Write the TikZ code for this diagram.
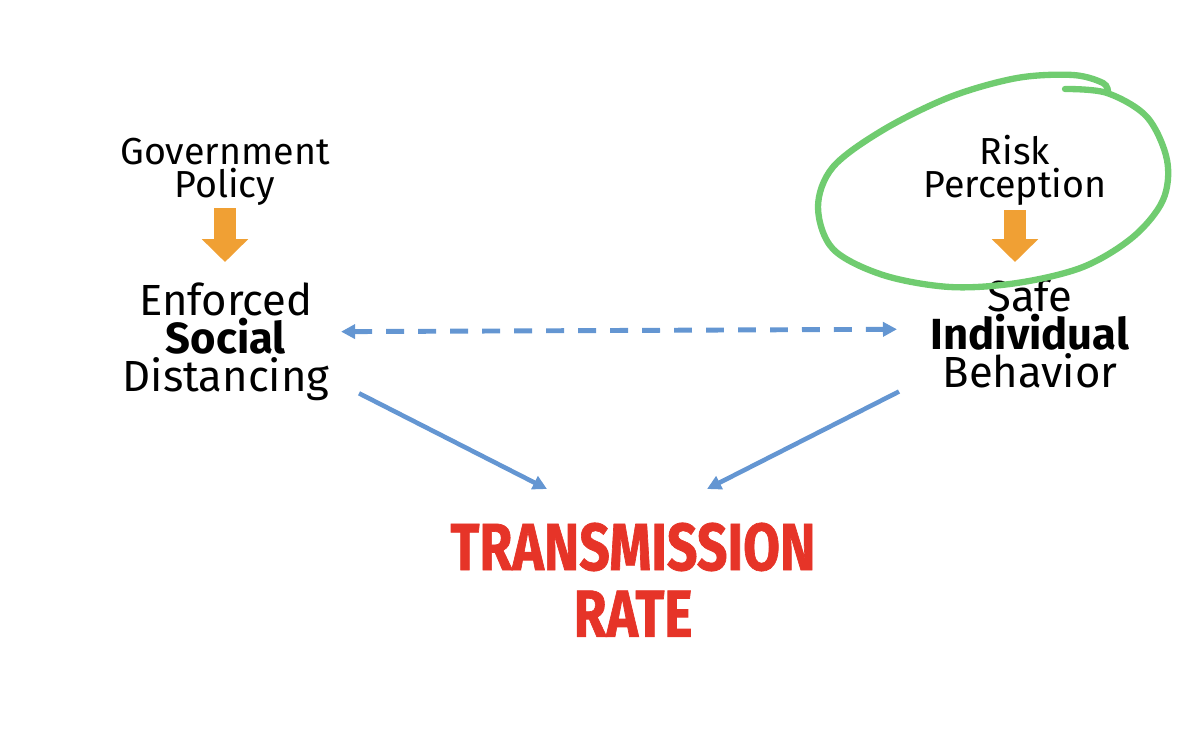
\documentclass[tikz,border=0pt]{standalone}
\usepackage{fontspec}
\setmainfont{Fira Sans}
\newfontfamily\ratefont{Fira Sans}[FakeStretch=0.8,FakeBold=1]
\usetikzlibrary{arrows.meta}

\definecolor{arrorange}{RGB}{240,160,52}
\definecolor{linkblue}{RGB}{100,150,210}
\definecolor{loopgreen}{RGB}{112,204,112}
\definecolor{ratered}{RGB}{230,52,40}

\begin{document}
\begin{tikzpicture}[x=0.1mm,y=-0.1mm,>={Triangle[width=4pt,length=4pt]},
  lbl/.style={align=center,inner sep=0pt,font=\fontsize{10.7}{8.3}\selectfont},
  big/.style={align=center,inner sep=0pt,font=\fontsize{12.4}{10.8}\selectfont},
  down/.style={arrorange,line width=6pt,-{Triangle[width=12.8pt,length=6.5pt]}},
  link/.style={linkblue,line width=1.3pt,->},
  twoway/.style={linkblue,line width=1.4pt,<->,dash pattern=on 5.1pt off 4pt}]

\useasboundingbox (0,0) rectangle (1200,738);

\node[lbl,anchor=north] (gov) at (225,137) {Government\\Policy};
\node[big,anchor=north] (esd) at (226,282) {Enforced\\\textbf{Social}\\Distancing};

\node[lbl,anchor=north] (risk) at (1015,134) {Risk\\Perception};
\node[big,anchor=north] (sib) at (1030,278) {Safe\\\textbf{Individual}\\Behavior};

\node[anchor=north,inner sep=0pt,align=center,text=ratered,
  font=\ratefont\bfseries\fontsize{19}{19}\selectfont] (rate) at (633,522) {TRANSMISSION\\RATE};

% policy and risk push the behaviour
\draw[down,shorten <=0.2mm,shorten >=2mm] (gov.south) -- (gov.south |- esd.north);
\draw[down,shorten <=0.4mm,shorten >=1.6mm] (risk.south) -- (risk.south |- sib.north);

\draw[twoway] ([xshift=1.1mm,yshift=1mm]esd.east) -- ([xshift=-3.3mm,yshift=0.4mm]sib.west);

\draw[link] ([xshift=13.3mm,yshift=0.8mm]esd.south) -- ([xshift=-8.6mm,yshift=3.3mm]rate.north);
\draw[link] ([xshift=-13.1mm,yshift=-0.3mm]sib.south) -- ([xshift=7.4mm,yshift=3.3mm]rate.north);

% hand drawn loop round the risk
\draw[loopgreen,line width=1.8pt,line cap=round] plot[smooth,tension=0.55] coordinates {
  (1065,89) (1107,93) (1147,117) (1167,160) (1163,200) (1133,237) (1083,267)
  (1017,283) (950,287) (883,275) (833,249) (818,207) (833,167) (883,130)
  (950,97) (1017,78) (1073,75) (1103,83) (1108,92)};

\end{tikzpicture}
\end{document}
